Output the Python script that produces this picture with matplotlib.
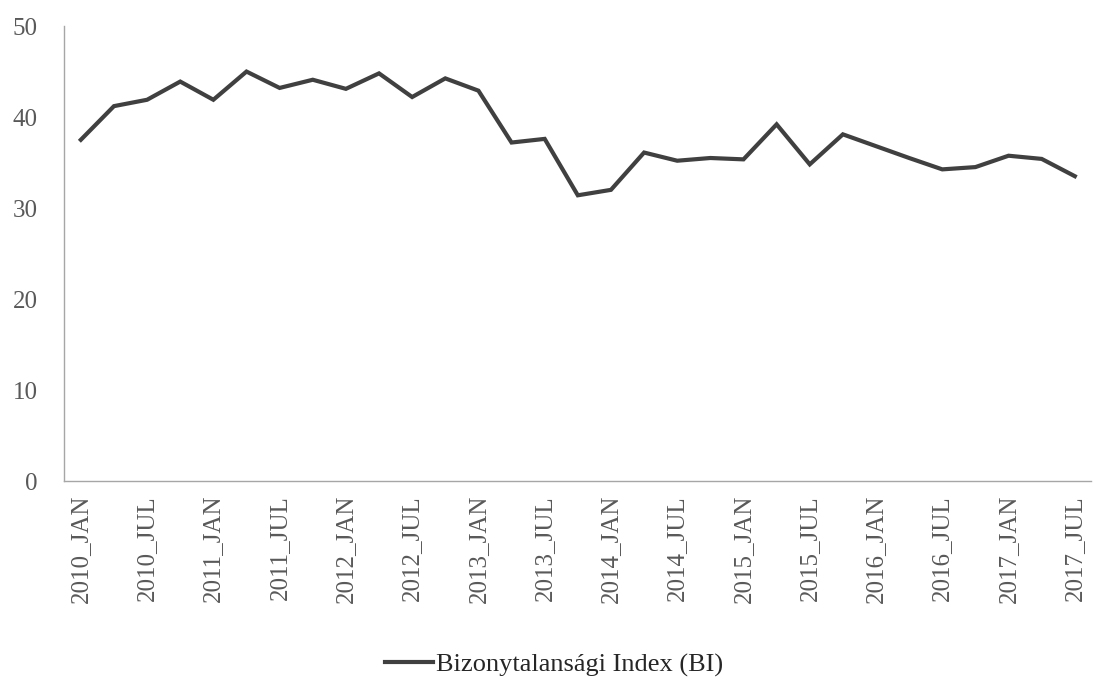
import matplotlib.pyplot as plt

plt.rcParams['font.family'] = ['Liberation Serif', 'DejaVu Serif']

# quarterly categories, 2010_JAN .. 2017_JUL
months = ["JAN", "APR", "JUL", "OCT"]
categories = [f"{y}_{m}" for y in range(2010, 2018) for m in months][:31]

bi_values = [37.5, 41.2, 41.9, 43.9, 41.9, 45.0, 43.2, 44.1, 43.1, 44.8,
             42.2, 44.25, 42.9, 37.2, 37.6, 31.4, 32.0, 36.1, 35.2, 35.5,
             35.35, 39.2, 34.8, 38.1, 36.8, 35.5, 34.25, 34.5, 35.75, 35.4,
             33.5]

fig = plt.figure(figsize=(11.08, 6.77), dpi=100)
ax = fig.add_axes([0.058, 0.2895, 0.927, 0.672])

x = list(range(len(categories)))
ax.plot(x, bi_values, color="#404040", linewidth=3.0,
        solid_joinstyle="miter", label="Bizonytalansági Index (BI)")

ax.set_xlim(-0.5, len(categories) - 0.5)
ax.set_ylim(0, 50)
ax.set_yticks([0, 10, 20, 30, 40, 50])
ax.set_xticks(x[::2])
ax.set_xticklabels(categories[::2], rotation=90, va="top")

for s in ["top", "right"]:
    ax.spines[s].set_visible(False)
for s in ["left", "bottom"]:
    ax.spines[s].set_color("#a6a6a6")
    ax.spines[s].set_linewidth(1.0)

ax.tick_params(axis="both", length=0, labelsize=18, labelcolor="#595959")
ax.tick_params(axis="y", pad=19)
ax.tick_params(axis="x", pad=10)

fig.legend(loc="lower center", bbox_to_anchor=(0.5, -0.035), frameon=False,
           fontsize=19, handlelength=1.8, handletextpad=0.1,
           labelcolor="#262626")

fig.savefig("out.png", dpi=100)
